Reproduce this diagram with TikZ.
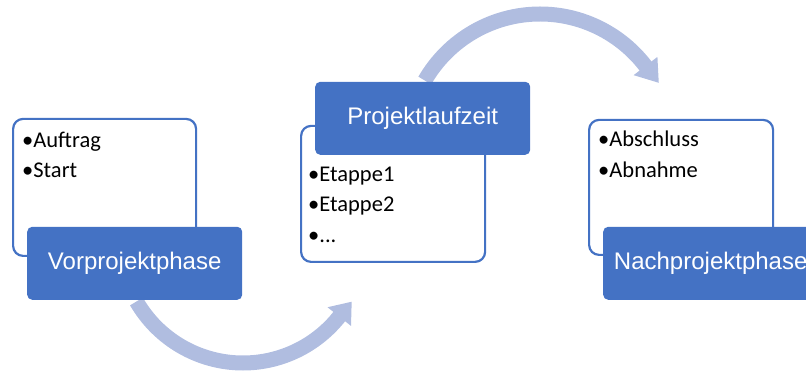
\documentclass[tikz,border=0pt]{standalone}
\usepackage{fontspec}
\setmainfont{Liberation Sans}
\newfontfamily\bodyfont{Carlito}
\usetikzlibrary{calc}
\definecolor{accent}{HTML}{4472C4}
\definecolor{arrowblue}{HTML}{B0BDE0}
\begin{document}
\begin{tikzpicture}[x=1pt,y=1pt,
  listbox/.style={draw=accent, line width=2.2pt, fill=white, rounded corners=10pt,
    inner sep=0pt, anchor=south west},
  titlebox/.style={fill=accent, rounded corners=5pt, text=white, inner sep=0pt,
    anchor=south west, minimum width=215, minimum height=73,
    font=\fontsize{24}{28}\selectfont},
  item/.style={anchor=base west, inner sep=0pt, text=black,
    font=\bodyfont\fontsize{22.5}{27}\selectfont},
  cyclearrow/.style={draw=arrowblue, line width=15pt},
  arrowhead/.style={fill=arrowblue},
]
\useasboundingbox (0,0) rectangle (806,372);

% curved arrows between the phases
\coordinate (topc) at (540,225);
\draw[cyclearrow] ($(topc)+(150:133)$) arc[start angle=150, end angle=37, radius=133];
\fill[arrowhead] ($(topc)+(37.5:118)$) -- ($(topc)+(37.5:148)$) -- ($(topc)+(28.4:135)$) -- cycle;

\coordinate (botc) at (243,132);
\draw[cyclearrow] ($(botc)+(-150:123)$) arc[start angle=-150, end angle=-38, radius=123];
\fill[arrowhead] ($(botc)+(-38.5:108)$) -- ($(botc)+(-38.5:138)$) -- ($(botc)+(-29.6:125)$) -- cycle;

% phase 1
\node[listbox, minimum width=183, minimum height=137] (preBox) at (12,115) {};
\node[item] (preA) at (22,224) {•Auftrag};
\node[item] (preB) at (22,194) {•Start};
\node[titlebox] (preT) at (27,72) {Vorprojektphase};

% phase 2
\node[listbox, minimum width=184, minimum height=136] (runBox) at (300,109) {};
\node[item] (runA) at (308,190) {•Etappe1};
\node[item] (runB) at (308,160) {•Etappe2};
\node[item] (runC) at (308,129) {•...};
\node[titlebox] (runT) at (315,217) {Projektlaufzeit};

% phase 3
\node[listbox, minimum width=184, minimum height=135] (postBox) at (588,116) {};
\node[item] (postA) at (598,225) {•Abschluss};
\node[item] (postB) at (598,194) {•Abnahme};
\node[titlebox] (postT) at (603,72) {Nachprojektphase};
\end{tikzpicture}
\end{document}
